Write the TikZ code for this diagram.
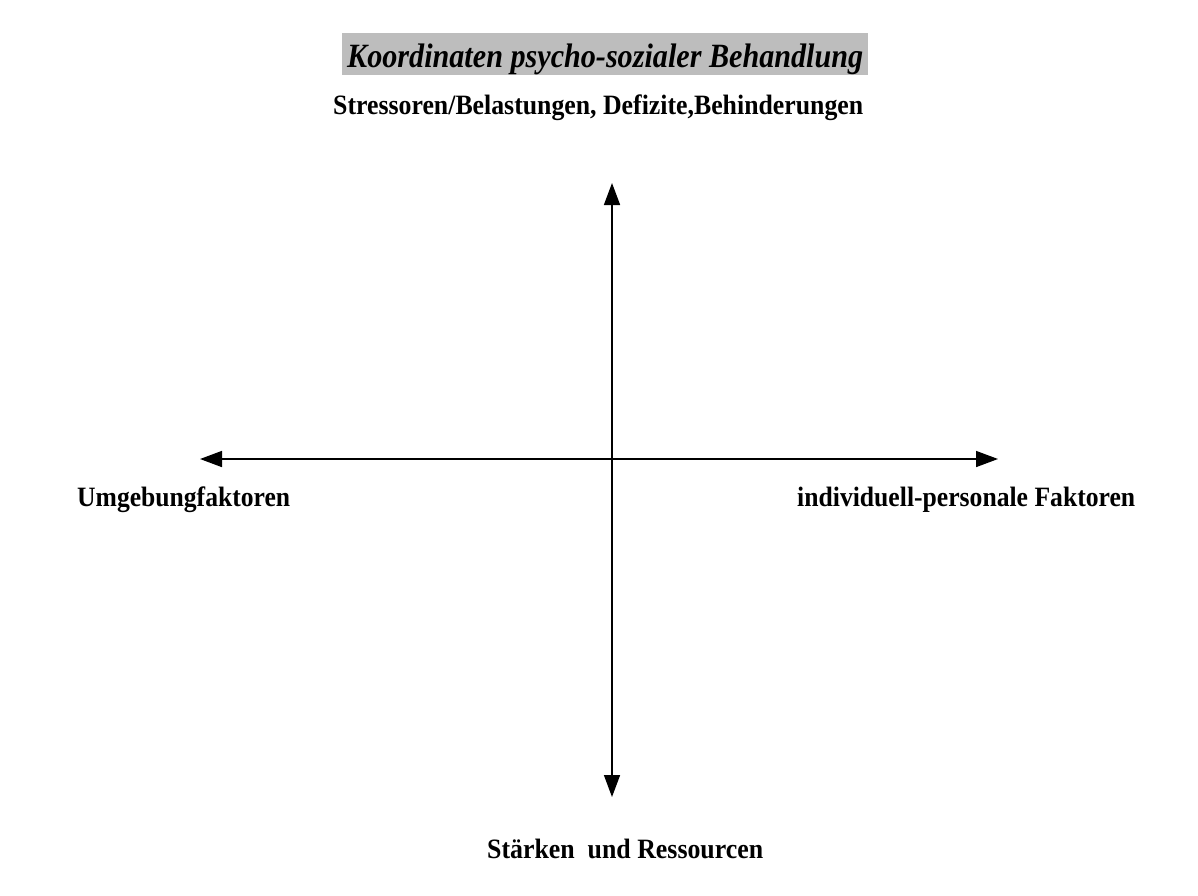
\documentclass[tikz,border=0pt]{standalone}
\usepackage{fontspec}
\setmainfont{Liberation Serif}
\usepackage{graphicx}
\usetikzlibrary{arrows.meta}
\tikzset{
  lbl/.style={inner sep=0pt, anchor=base west, font=\bfseries\fontsize{28}{30}\selectfont},
  ttl/.style={inner sep=0pt, anchor=base west, font=\bfseries\itshape\fontsize{34}{36}\selectfont},
  axis/.style={line width=1.6pt, -{Triangle[length=22pt,width=16pt]}},
  hl/.style={fill=black!26, draw=none}
}
\begin{document}
\begin{tikzpicture}[x=1pt,y=-1pt]
\useasboundingbox (0,0) rectangle (1198,895);
\fill[white] (0,0) rectangle (1198,895);
\fill[hl] (342,33) rectangle (868,75);
\node[ttl] (title) at (347,67) {\resizebox{516pt}{\height}{Koordinaten psycho-sozialer Behandlung}};
\node[lbl] (stress) at (333,114) {\resizebox{530pt}{\height}{Stressoren/Belastungen, Defizite,Behinderungen}};
\node[lbl] (umg) at (77,506) {\resizebox{213pt}{\height}{Umgebungfaktoren}};
\node[lbl] (ind) at (797,506) {\resizebox{338pt}{\height}{individuell-personale Faktoren}};
\node[lbl] (staerke) at (487,858) {\resizebox{276pt}{\height}{Stärken\ \ und Ressourcen}};
\coordinate (O) at (612,459);
\coordinate (top) at (612,183);
\coordinate (bottom) at (612,797);
\coordinate (left) at (200,459);
\coordinate (right) at (998,459);
\draw[axis] (O) -- (top);
\draw[axis] (O) -- (bottom);
\draw[axis] (O) -- (left);
\draw[axis] (O) -- (right);
\end{tikzpicture}
\end{document}
